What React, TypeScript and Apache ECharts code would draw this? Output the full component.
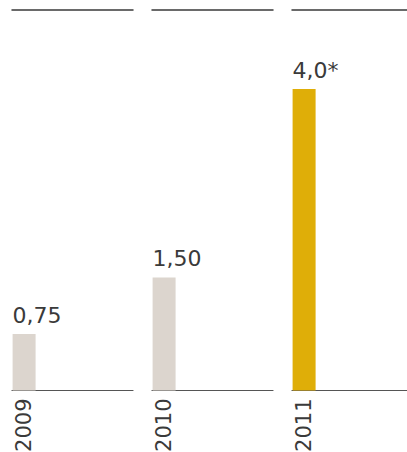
import React, { useEffect, useRef } from "react";
import * as echarts from "echarts";

const years = ["2009", "2010", "2011"];
const values = [0.75, 1.5, 4.0];
const valueLabels = ["0,75", "1,50", "4,0*"];

const GRAY = "#dcd5ce";
const GOLD = "#dfae08";
const FONT = "'DejaVu Sans', sans-serif";

export default function App() {
  const ref = useRef<HTMLDivElement>(null);

  useEffect(() => {
    if (!ref.current) return;
    const chart = echarts.init(ref.current, undefined, { renderer: "svg" });
    const slots = 5;
    const panelLeft = [12, 152, 292];
    const panelWidth = 121;
    const grids = years.map((_, i) => ({
      left: panelLeft[i],
      width: panelWidth,
      top: 10,
      bottom: 61.5,
      containLabel: false,
      outerBoundsMode: "none",
    }));
    const cats = (y: string) => [y, ...Array(slots - 1).fill("")];
    const xAxes: any[] = [];
    years.forEach((y, i) => {
      xAxes.push({
        type: "category",
        gridIndex: i,
        data: cats(y),
        position: "bottom",
        axisLine: { show: true, lineStyle: { color: "#555", width: 1.2 } },
        axisTick: { show: false },
        axisLabel: {
          interval: 0,
          rotate: 90,
          margin: 8,
          fontSize: 21,
          fontFamily: FONT,
          color: "#3a3a3a",
        },
        splitLine: { show: false },
      });
      xAxes.push({
        type: "category",
        gridIndex: i,
        data: cats(y),
        position: "top",
        axisLine: { show: true, lineStyle: { color: "#3a3a3a", width: 1.5 } },
        axisTick: { show: false },
        axisLabel: { show: false },
        splitLine: { show: false },
      });
    });
    const yAxes = years.map((_, i) => ({
      type: "value",
      gridIndex: i,
      min: 0,
      max: 5.05,
      show: false,
      splitLine: { show: false },
    }));
    const series = years.map((y, i) => ({
      type: "bar",
      xAxisIndex: i * 2,
      yAxisIndex: i,
      barWidth: 23,
      data: [values[i], ...Array(slots - 1).fill("-")],
      itemStyle: { color: i === years.length - 1 ? GOLD : GRAY },
      label: {
        show: true,
        position: [0, -7.5],
        align: "left",
        verticalAlign: "bottom",
        formatter: () => valueLabels[i],
        fontSize: 22,
        fontFamily: FONT,
        color: "#3a3a3a",
      },
    }));
    chart.setOption({
      animation: false,
      grid: grids,
      xAxis: xAxes,
      yAxis: yAxes,
      series,
    });
    return () => chart.dispose();
  }, []);

  return (
    <div
      ref={ref}
      style={{ position: "absolute", left: 0, top: 0, width: 407, height: 452, background: "#fff" }}
    />
  );
}
